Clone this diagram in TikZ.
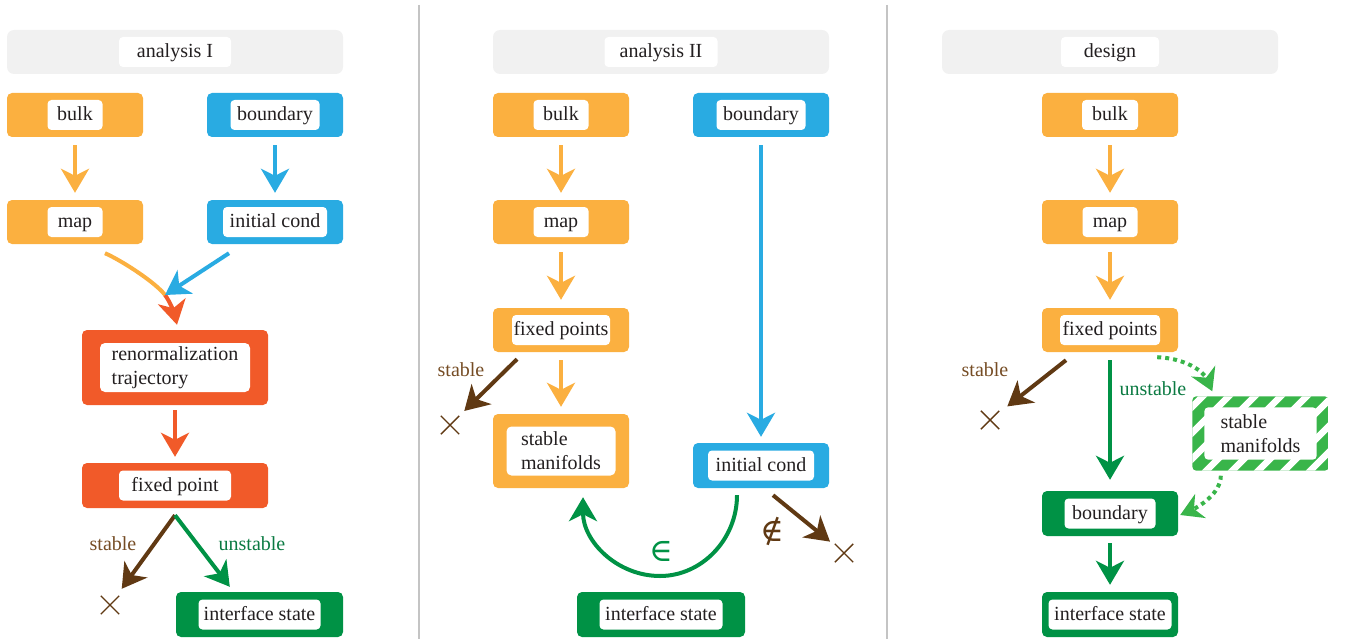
\documentclass[tikz,border=0pt]{standalone}
\usepackage{fontspec}
\setmainfont{Liberation Serif}
\newfontfamily\symfnt{DejaVu Serif}
\usetikzlibrary{arrows.meta,calc,shapes.misc}
\definecolor{cOr}{HTML}{FBB040}
\definecolor{cBl}{HTML}{29ABE2}
\definecolor{cRd}{HTML}{F15A29}
\definecolor{cGn}{HTML}{009245}
\definecolor{cLg}{HTML}{39B54A}
\definecolor{cBr}{HTML}{603913}
\definecolor{cBrT}{HTML}{754C24}
\definecolor{cGnT}{HTML}{0B7A42}
\definecolor{cHd}{HTML}{F1F1F1}
\definecolor{cSep}{HTML}{C4C4C4}
\definecolor{cTx}{HTML}{231F20}
\begin{document}
\begin{tikzpicture}[x=1pt,y=-1pt, font=\fontsize{20}{24}\selectfont,
  obox/.style={fill=#1, rounded corners=5pt, inner sep=0pt, minimum width=136pt, minimum height=44pt},
  hbox/.style={fill=cHd, rounded corners=7pt, inner sep=0pt, minimum width=336pt, minimum height=44pt},
  ilab/.style={fill=white, text=cTx, rounded corners=4pt, inner sep=0pt, minimum height=30pt, minimum width=#1, text height=15pt, text depth=4pt},
  mlab/.style={fill=white, text=cTx, rounded corners=5pt, inner sep=0pt, minimum height=49pt, minimum width=#1, align=left},
  arr/.style={line width=4pt, draw=#1, -{Stealth[length=24pt,width=28pt,inset=7pt,fill=#1]}},
  vgap/.style={shorten <=8pt, shorten >=7pt},
  xmark/.style={cross out, draw=cBr, line width=1.4pt, minimum size=17pt, inner sep=0pt},
  lbl/.style={inner sep=0pt, text=#1},
  sym/.style={inner sep=0pt, text=#1, font=\symfnt\fontsize{32}{32}\selectfont},
  dotarr/.style={line width=4pt, draw=cLg, dash pattern=on 4pt off 4pt, -{Stealth[length=22pt,width=26pt,inset=7pt,fill=cLg]}},
]
\useasboundingbox (0,0) rectangle (1348,639);
% separators
\draw[cSep, line width=1.2pt] (419,5) -- (419,639);
\draw[cSep, line width=1.2pt] (887,5) -- (887,639);

% ================= panel 1 =================
\node[hbox] (h1) at (175,52) {};
\node[ilab=112pt] (h1t) at (h1) {analysis I};
\node[obox=cOr] (bulk1) at (75,115) {};
\node[ilab=55pt] (bulk1t) at (bulk1) {bulk};
\node[obox=cBl] (bnd1) at (275,115) {};
\node[ilab=89pt] (bnd1t) at (bnd1) {boundary};
\node[obox=cOr] (map1) at (75,222) {};
\node[ilab=55pt] (map1t) at (map1) {map};
\node[obox=cBl] (ic1) at (275,222) {};
\node[ilab=104pt] (ic1t) at (ic1) {initial cond};
\node[obox=cRd, minimum width=186pt, minimum height=75pt] (rt1) at (175,367.5) {};
\node[mlab=150pt] (rt1t) at (rt1) {renormalization\\trajectory};
\node[obox=cRd, minimum width=186pt, minimum height=45pt] (fp1) at (175,485.5) {};
\node[ilab=112pt] (fp1t) at (fp1) {fixed point};
\node[obox=cGn, minimum width=167pt, minimum height=45pt] (is1) at (259.5,614.5) {};
\node[ilab=122pt] (is1t) at (is1) {interface state};
\node[xmark] (x1) at (110,605) {};

\draw[arr=cOr, vgap] (bulk1) -- (map1);
\draw[arr=cBl, vgap] (bnd1) -- (ic1);
\coordinate (j1) at (165,295);
\draw[cOr, line width=4pt] ($(map1.south)+(30,9)$) .. controls +(18,8) and +(-9,-12) .. (j1);
\draw[arr=cRd] (j1) .. controls +(6,8) and +(-2,-9) .. ($(rt1.north)+(2,-5)$);
\draw[arr=cBl] ($(ic1.south)+(-46,9)$) -- (j1);
\draw[arr=cRd, shorten <=5pt, shorten >=6pt] (rt1) -- (fp1);
\coordinate (s1) at ($(fp1.south)+(0,7)$);
\draw[arr=cBr, shorten >=20pt] (s1) -- (x1.center);
\draw[arr=cGn] (s1) -- ($(is1.north west)+(54,-5)$);
\node[lbl=cBrT] (l1s) at (113,544) {stable};
\node[lbl=cGnT] (l1u) at (252,544) {unstable};

% ================= panel 2 =================
\node[hbox] (h2) at (661,52) {};
\node[ilab=113pt] (h2t) at (h2) {analysis II};
\node[obox=cOr] (bulk2) at (561,115) {};
\node[ilab=55pt] (bulk2t) at (bulk2) {bulk};
\node[obox=cBl] (bnd2) at (761,115) {};
\node[ilab=89pt] (bnd2t) at (bnd2) {boundary};
\node[obox=cOr] (map2) at (561,222) {};
\node[ilab=55pt] (map2t) at (map2) {map};
\node[obox=cOr] (fp2) at (561,330) {};
\node[ilab=98pt] (fp2t) at (fp2) {fixed points};
\node[obox=cOr, minimum height=74pt] (sm2) at (561,451) {};
\node[mlab=109pt] (sm2t) at (sm2) {stable\\manifolds};
\node[obox=cBl, minimum height=45pt] (ic2) at (761,465.5) {};
\node[ilab=106pt] (ic2t) at (ic2) {initial cond};
\node[obox=cGn, minimum width=168pt, minimum height=45pt] (is2) at (661,614.5) {};
\node[ilab=123pt] (is2t) at (is2) {interface state};
\node[xmark] (x2) at (450,425) {};
\node[xmark] (x3) at (844,553) {};

\draw[arr=cOr, vgap] (bulk2) -- (map2);
\draw[arr=cOr, shorten <=8pt, shorten >=8pt] (map2) -- (fp2);
\draw[arr=cOr, vgap] (fp2) -- (sm2);
\draw[arr=cBl, shorten <=8pt, shorten >=6pt] (bnd2) -- (ic2);
\draw[arr=cBr, shorten >=20pt] ($(fp2.south)+(-44,7)$) -- (x2.center);
\coordinate (b2) at (660,576);
\draw[arr=cGn] ($(ic2.south)+(-24,7)$) .. controls +(0,44) and +(42,0) .. (b2)
   .. controls +(-43,0) and +(0,44) .. ($(sm2.south)+(22,9)$);
\draw[arr=cBr, shorten >=18pt] ($(ic2.south)+(12,7)$) -- (x3.center);
\node[lbl=cBrT] (l2s) at (461,370) {stable};
\node[sym=cGn] (in2) at (661,551) {∈};
\node[sym=cBr] (nin2) at (772,531) {∉};

% ================= panel 3 =================
\node[hbox] (h3) at (1110,52) {};
\node[ilab=98pt] (h3t) at (h3) {design};
\node[obox=cOr] (bulk3) at (1110,115) {};
\node[ilab=56pt] (bulk3t) at (bulk3) {bulk};
\node[obox=cOr] (map3) at (1110,222) {};
\node[ilab=55pt] (map3t) at (map3) {map};
\node[obox=cOr] (fp3) at (1110,330) {};
\node[ilab=100pt] (fp3t) at (fp3) {fixed points};
\node[obox=cGn, minimum height=45pt] (bd3) at (1110,513.5) {};
\node[ilab=91pt] (bd3t) at (bd3) {boundary};
\node[obox=cGn, minimum height=45pt] (is3) at (1110,614.5) {};
\node[ilab=123pt] (is3t) at (is3) {interface state};
\node[xmark] (x4) at (990,420) {};
% hatched stable manifolds
\node[inner sep=0pt, minimum width=136pt, minimum height=74pt] (sm3) at (1260.5,433.5) {};
\begin{scope}
  \clip[rounded corners=4pt] (sm3.north west) rectangle (sm3.south east);
  \fill[cLg] (sm3.north west) rectangle (sm3.south east);
  \foreach \k in {-4,...,6}
    \draw[white, line width=6.5pt] ($(sm3.south west)+(\k*26+8,6)$) -- ++(100,-100);
  \fill[white, rounded corners=4pt] ($(sm3.north west)+(12,11)$) rectangle ($(sm3.south east)+(-12,-11)$);
\end{scope}
\node[inner sep=0pt, align=left, text=cTx] (sm3t) at (sm3) {stable\\manifolds};

\draw[arr=cOr, vgap] (bulk3) -- (map3);
\draw[arr=cOr, shorten <=8pt, shorten >=8pt] (map3) -- (fp3);
\draw[arr=cGn, shorten <=8pt, shorten >=11pt] (fp3) -- (bd3);
\draw[arr=cGn, shorten <=7pt, shorten >=7pt] (bd3) -- (is3);
\draw[arr=cBr, shorten >=22pt] ($(fp3.south)+(-44,8)$) -- (x4.center);
\draw[dotarr] ($(fp3.south east)+(-21,5)$) .. controls +(28,1) and +(-9,-20) .. ($(sm3.north west)+(20,-5)$);
\draw[dotarr] ($(sm3.south west)+(28.5,5)$) .. controls +(0,18) and +(18,-8) .. ($(bd3.east)+(2,1.5)$);
\node[lbl=cBrT] (l3s) at (985,370) {stable};
\node[lbl=cGnT] (l3u) at (1153,389) {unstable};
\end{tikzpicture}
\end{document}
